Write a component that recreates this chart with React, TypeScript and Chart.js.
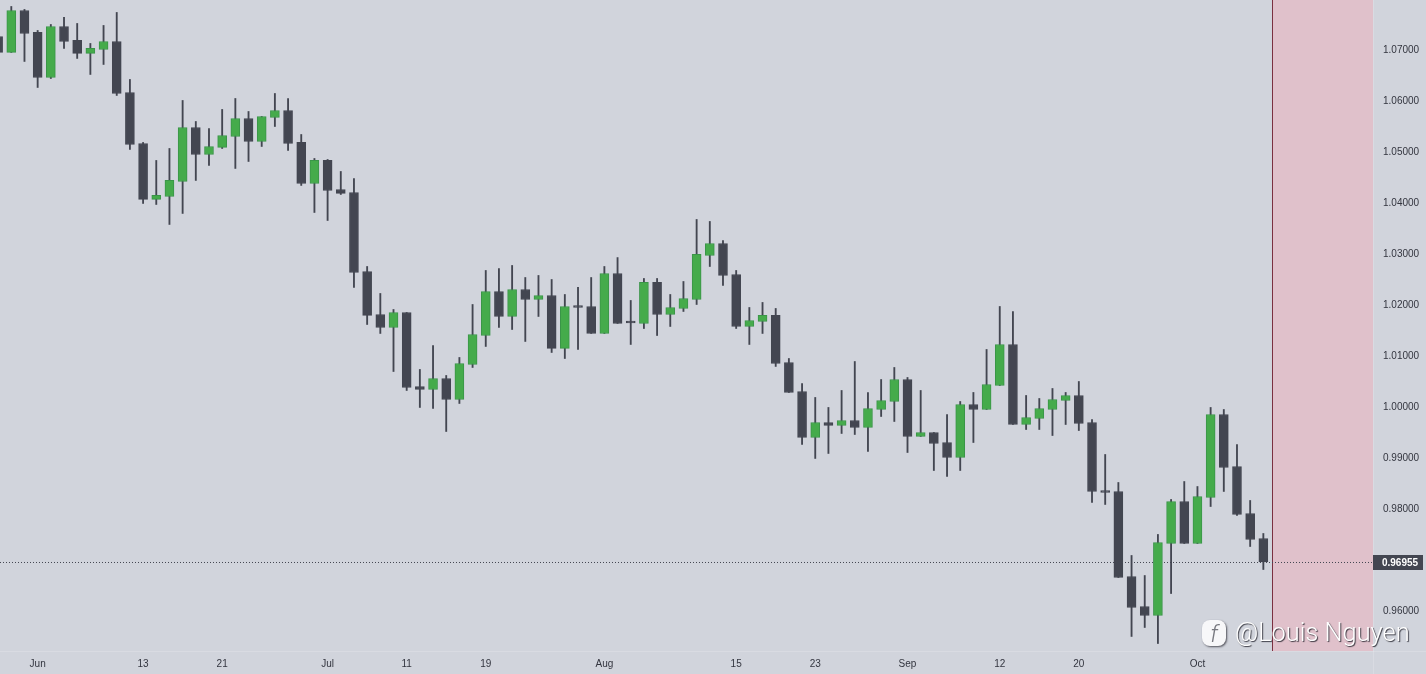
import React, { useEffect, useRef } from "react";
import { Chart, registerables } from "chart.js";

Chart.register(...registerables);

// EUR/USD daily candles, first entry is the partly hidden bar at the left edge
const firstIndex = -1;
const opens = [1.07255,1.06942,1.07765,1.07334,1.06451,1.07451,1.07177,1.06922,1.07,1.07157,1.06157,1.05157,1.0406,1.04118,1.04412,1.05471,1.04941,1.05079,1.05294,1.05647,1.05196,1.05667,1.05804,1.05177,1.04373,1.04824,1.04255,1.04196,1.02647,1.01804,1.01549,1.01843,1.00392,1.00334,1.00549,1.00137,1.00824,1.01392,1.02255,1.01765,1.02294,1.02098,1.02177,1.01138,1.01961,1.01961,1.01432,1.02608,1.01647,1.01628,1.02432,1.01804,1.01922,1.02098,1.02961,1.03196,1.02588,1.01569,1.01667,1.01785,1.00863,1.00294,0.99392,0.99686,0.99627,0.99725,0.99588,0.99941,1.00098,1.00529,0.99412,0.9949,0.99294,0.99,1.00039,0.99941,1.00412,1.01216,0.99647,0.99765,0.99941,1.00118,1.00216,0.99686,0.98353,0.98334,0.96667,0.96078,0.95902,0.97314,0.98137,0.97314,0.98216,0.99843,0.98824,0.97902,0.97412];
const highs = [1.07255,1.07843,1.07785,1.07373,1.0749,1.07628,1.0751,1.07118,1.07471,1.07726,1.06412,1.05177,1.04824,1.05059,1.06,1.05588,1.05451,1.05824,1.06039,1.05784,1.05686,1.06137,1.06039,1.05333,1.04863,1.04843,1.04608,1.04471,1.02745,1.02216,1.01902,1.01843,1.00726,1.01196,1.00608,1.00961,1.02,1.02667,1.02706,1.02765,1.02529,1.02569,1.0249,1.02196,1.02334,1.02529,1.02745,1.0292,1.02079,1.0251,1.0251,1.02196,1.02451,1.03667,1.03628,1.03255,1.02667,1.01941,1.0204,1.01922,1.00941,1.00451,1.00177,0.99981,1.00314,1.00882,1.00275,1.00529,1.00765,1.00569,1.00314,0.9949,0.99843,1.00098,1.00275,1.01118,1.01961,1.01863,1.00216,1.00157,1.00353,1.00275,1.0049,0.99745,0.99059,0.9851,0.97079,0.96686,0.97491,0.98177,0.98529,0.98431,0.99981,0.99941,0.99255,0.98157,0.9751];
const lows = [1.06942,1.06942,1.06765,1.06255,1.06431,1.0702,1.06824,1.0651,1.06706,1.06098,1.0504,1.03981,1.03961,1.03569,1.03785,1.04432,1.04726,1.05059,1.04667,1.04804,1.05098,1.0549,1.0502,1.04334,1.03804,1.03647,1.04157,1.02334,1.01608,1.01432,1.00686,1.00314,0.99981,0.99961,0.9951,1.00059,1.00765,1.01177,1.01549,1.0151,1.01275,1.01765,1.01059,1.00941,1.01118,1.01432,1.01432,1.01628,1.01216,1.01529,1.01392,1.01569,1.01863,1.02,1.02745,1.02373,1.01529,1.01216,1.01432,1.00785,1.00275,0.99255,0.98981,0.99079,0.99471,0.99451,0.99118,0.99804,0.99706,0.99098,0.99412,0.98745,0.98628,0.98745,0.99294,0.99941,1.00412,0.99647,0.99549,0.99549,0.99431,0.99647,0.99529,0.98118,0.98079,0.96647,0.95491,0.95667,0.95353,0.96333,0.97314,0.97314,0.98039,0.98334,0.97863,0.97255,0.96804];
const closes = [1.06942,1.07765,1.07314,1.06451,1.07451,1.07157,1.06922,1.0702,1.07157,1.06137,1.05137,1.0406,1.04138,1.04432,1.05471,1.04941,1.05098,1.05314,1.05647,1.05196,1.05686,1.05804,1.05157,1.04373,1.04824,1.04235,1.04177,1.02628,1.01785,1.01549,1.01843,1.00373,1.00334,1.00549,1.00137,1.00843,1.01412,1.02255,1.01765,1.02294,1.02098,1.02177,1.01138,1.01961,1.01941,1.01432,1.02608,1.01628,1.01637,1.02432,1.01804,1.01941,1.02118,1.02981,1.03196,1.02569,1.01569,1.01686,1.01785,1.00843,1.00275,0.99392,0.99686,0.99627,0.99725,0.99588,0.99961,1.00118,1.00529,0.99412,0.9949,0.99275,0.99,1.00039,0.99941,1.00432,1.01216,0.99647,0.99785,0.99961,1.00137,1.00216,0.99667,0.98334,0.98314,0.96647,0.96059,0.95902,0.97333,0.98137,0.97314,0.98235,0.99843,0.98804,0.97882,0.97392,0.96955];

const xTickIndexes = [2, 10, 16, 24, 30, 36, 45, 55, 61, 68, 75, 81, 90];
const xTickLabels = ["Jun", "13", "21", "Jul", "11", "19", "Aug", "15", "23", "Sep", "12", "20", "Oct"];
// 0.97000 is covered by the last-price tag in the reference
const yTickValues = [0.96, 0.98, 0.99, 1.0, 1.01, 1.02, 1.03, 1.04, 1.05, 1.06, 1.07];

const lastPrice = 0.96955;
const zoneStartIndex = 95.76;
const xMin = -0.857;
const xMax = 103.32;
const yMin = 0.95206;
const yMax = 1.0797;

const BG = "#d1d4dc";
const UP = "#45ab4b";
const UP_BORDER = "#3a9548";
const DOWN = "#434651";
const AXIS_TEXT = "#33353f";
const FONT = '"Liberation Sans", Arial, sans-serif';

const overlayPlugin = {
  id: "overlay",
  beforeDraw(chart: any) {
    const { ctx, width, height } = chart;
    ctx.save();
    ctx.fillStyle = BG;
    ctx.fillRect(0, 0, width, height);
    ctx.restore();
  },
  beforeDatasetsDraw(chart: any) {
    const { ctx, chartArea: a, scales } = chart;
    const zx = Math.round(scales.x.getPixelForValue(zoneStartIndex));
    ctx.save();
    ctx.fillStyle = "#e0c1cb";
    ctx.fillRect(zx, a.top, a.right - zx, a.bottom - a.top);
    ctx.fillStyle = "#7b3040";
    ctx.fillRect(zx - 1, a.top, 1, a.bottom - a.top);
    ctx.fillStyle = "rgba(255,255,255,0.18)";
    ctx.fillRect(0, a.bottom, chart.width, 1);
    ctx.fillRect(a.right, 0, 1, chart.height);
    ctx.restore();
  },
  // the dotted price line snaps to the pixel row the reference uses
  beforeDatasetDraw(chart: any, args: any) {
    if (args.index === 0) {
      chart.ctx.save();
      chart.ctx.translate(0, 0.7);
    }
  },
  afterDatasetDraw(chart: any, args: any) {
    if (args.index === 0) chart.ctx.restore();
  },
  afterDraw(chart: any) {
    const { ctx, chartArea: a, scales } = chart;
    const py = Math.round(scales.y.getPixelForValue(lastPrice));
    ctx.save();
    ctx.fillStyle = DOWN;
    ctx.fillRect(a.right, py - 7, 50, 15);
    ctx.fillStyle = "#ffffff";
    ctx.font = `bold 10px ${FONT}`;
    ctx.textAlign = "center";
    ctx.textBaseline = "middle";
    ctx.fillText(lastPrice.toFixed(5), a.right + 27, py + 1);

    // watermark
    ctx.shadowColor = "rgba(40,40,50,0.75)";
    ctx.shadowBlur = 2;
    ctx.shadowOffsetX = 1;
    ctx.shadowOffsetY = 1;
    ctx.fillStyle = "#f7f7f9";
    ctx.beginPath();
    ctx.roundRect(1202, 620, 24, 26, 8);
    ctx.fill();
    ctx.shadowColor = "transparent";
    ctx.fillStyle = "#77787f";
    ctx.font = `italic 300 24px Roboto, ${FONT}`;
    ctx.textAlign = "center";
    ctx.textBaseline = "alphabetic";
    ctx.fillText("f", 1214, 642);
    ctx.shadowColor = "rgba(30,30,40,0.85)";
    ctx.shadowBlur = 1;
    ctx.fillStyle = "#ffffff";
    ctx.font = `300 25.4px Roboto, ${FONT}`;
    ctx.textAlign = "left";
    ctx.fillText("@Louis Nguyen", 1235, 641);
    ctx.restore();
  },
};

export default function App() {
  const ref = useRef<HTMLCanvasElement | null>(null);

  useEffect(() => {
    document.body.style.margin = "0";
    document.body.style.background = BG;
    const indexes = opens.map((_, i) => i + firstIndex);
    const isUp = closes.map((c, i) => c >= opens[i]);
    const chart = new Chart(ref.current as HTMLCanvasElement, {
      type: "bar",
      data: {
        datasets: [
          {
            type: "line",
            data: [
              { x: xMin, y: lastPrice },
              { x: xMax, y: lastPrice },
            ],
            borderColor: "#434651",
            borderWidth: 1,
            borderDash: [1, 2],
            pointRadius: 0,
            order: 3,
          },
          {
            data: indexes.map((x, i) => ({ x, y: [lows[i], highs[i]] })),
            backgroundColor: DOWN,
            borderWidth: 0,
            barThickness: 1.2,
            order: 2,
          },
          {
            data: indexes.map((x, i) => ({ x, y: [opens[i], closes[i]] })),
            backgroundColor: isUp.map((u) => (u ? UP : DOWN)),
            borderColor: isUp.map((u) => (u ? UP_BORDER : DOWN)),
            borderWidth: 1,
            borderSkipped: false,
            barThickness: 9,
            minBarLength: 2,
            order: 1,
          },
        ] as any,
      },
      options: {
        responsive: false,
        animation: false,
        devicePixelRatio: 1,
        layout: { padding: 0 },
        plugins: { legend: { display: false }, tooltip: { enabled: false } },
        datasets: { bar: { grouped: false } },
        scales: {
          x: {
            type: "linear",
            min: xMin,
            max: xMax,
            offset: false,
            grid: { display: false, drawTicks: false },
            border: { display: false },
            afterBuildTicks: (s: any) => {
              s.ticks = xTickIndexes.map((value) => ({ value }));
            },
            afterFit: (s: any) => {
              s.height = 23;
              s.paddingLeft = 0;
              s.paddingRight = 0;
              s.paddingTop = 0;
              s.paddingBottom = 0;
            },
            ticks: {
              autoSkip: false,
              maxRotation: 0,
              padding: 7,
              color: AXIS_TEXT,
              font: { family: FONT, size: 10 },
              callback: (v: any) => xTickLabels[xTickIndexes.indexOf(Number(v))] ?? "",
            },
          },
          y: {
            type: "linear",
            position: "right",
            min: yMin,
            max: yMax,
            grid: { display: false, drawTicks: false },
            border: { display: false },
            afterBuildTicks: (s: any) => {
              s.ticks = yTickValues.map((value) => ({ value }));
            },
            afterFit: (s: any) => {
              s.width = 53;
              s.paddingTop = 0;
              s.paddingBottom = 0;
              s.paddingLeft = 0;
              s.paddingRight = 0;
            },
            ticks: {
              autoSkip: false,
              padding: 10,
              labelOffset: 1,
              color: AXIS_TEXT,
              font: { family: FONT, size: 10 },
              callback: (v: any) => Number(v).toFixed(5),
            },
          },
        },
      } as any,
      plugins: [overlayPlugin],
    });
    return () => chart.destroy();
  }, []);

  return <canvas ref={ref} width={1426} height={674} style={{ display: "block" }} />;
}
